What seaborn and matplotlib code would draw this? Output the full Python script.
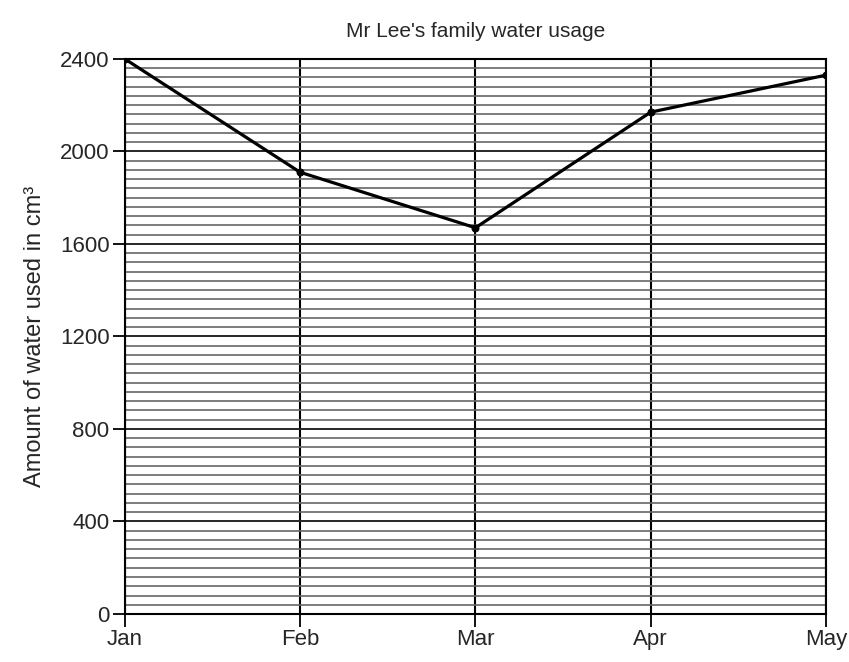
import pandas as pd
import seaborn as sns
import matplotlib.pyplot as plt
import numpy as np

# Données
months = ['Jan', 'Feb', 'Mar', 'Apr', 'May']
usage = [2400, 1910, 1670, 2170, 2330]

df = pd.DataFrame({'month': months, 'usage': usage})

sns.set_style('white')
plt.rcParams['font.family'] = ['Liberation Sans', 'DejaVu Sans']

fig = plt.figure(figsize=(8.49, 6.62), dpi=100)
ax = fig.add_axes([0.147, 0.0725, 0.826, 0.8385])

sns.lineplot(data=df, x='month', y='usage', color='black', linewidth=2.3,
             marker='o', markersize=5, markeredgecolor='black', ax=ax, zorder=5)

ax.set_xlim(0, len(months) - 1)
ax.set_ylim(0, 2400)
ax.set_yticks(np.arange(0, 2401, 400))
ax.set_yticks(np.arange(0, 2401, 40), minor=True)

# quadrillage façon papier millimétré
ax.grid(which='minor', axis='y', color='0.4', linewidth=1.2)
ax.grid(which='major', axis='y', color='0.15', linewidth=1.4)
ax.grid(which='major', axis='x', color='black', linewidth=1.5)

for s in ax.spines.values():
    s.set_color('black')
    s.set_linewidth(1.5)

ax.tick_params(axis='both', which='major', direction='out', length=9, width=1.3,
               labelsize=16, color='black', left=True, bottom=True, pad=2)
ax.tick_params(axis='y', which='minor', length=0)

ax.set_xlabel('')
ax.set_ylabel('Amount of water used in cm³', fontsize=17, labelpad=10)
ax.set_title("Mr Lee's family water usage", fontsize=15, pad=16)

plt.savefig('out.png', dpi=100)
